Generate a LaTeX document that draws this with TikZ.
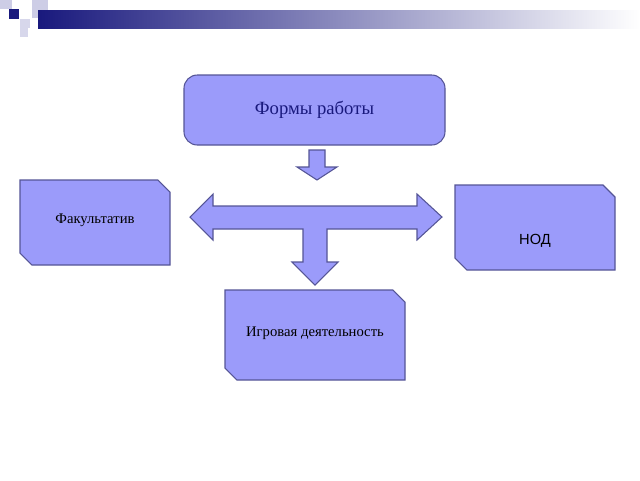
\documentclass[tikz,border=0pt]{standalone}
\usepackage{fontspec}
\setmainfont{Liberation Serif}
\setsansfont{Liberation Sans}
\definecolor{boxfill}{RGB}{155,155,250}
\definecolor{boxline}{RGB}{85,85,150}
\definecolor{navy}{RGB}{25,25,125}
\definecolor{pale}{RGB}{205,205,230}
\tikzset{
  panel/.style={fill=boxfill,draw=boxline,line width=0.8},
  arrowshape/.style={fill=boxfill,draw=boxline,line width=0.8,line join=miter}
}
\begin{document}
\begin{tikzpicture}[x=0.75pt,y=-0.75pt]
\useasboundingbox (0,0) rectangle (640,480);

% header
\fill[pale] (0,0) rectangle (12,9);
\fill[pale] (32,0) rectangle (48,18);
\fill[pale!80] (20,19) rectangle (30,28);
\fill[pale!80] (20,28) rectangle (28,37);
\fill[navy] (9,9) rectangle (19,19);
\shade[left color=navy,right color=white] (38,10) rectangle (640,28);

% top box
\node[panel,rounded corners=10,minimum width=195.75pt,minimum height=52.5pt,font=\fontsize{14}{16}\selectfont,text=navy]
  (forms) at (314.5,110) {Формы работы};

% small arrow
\draw[arrowshape] (309,150)--(325,150)--(325,167)--(337,167)--(317,180)--(297,167)--(309,167)--cycle;

% big arrow
\draw[arrowshape] (190,217)--(213,194)--(213,206)--(417,206)--(417,194)--(442,217)--(417,240)--(417,229)
  --(327,229)--(327,262)--(338,262)--(315,285)--(292,262)--(303,262)--(303,229)--(213,229)--(213,240)--cycle;

% side boxes
\foreach \x/\y/\w/\h/\nm in {20/180/150/85/fak, 455/185/160/85/nod, 225/290/180/90/game}{
  \draw[panel] (\x,\y)--(\x+\w-12,\y)--(\x+\w,\y+12)--(\x+\w,\y+\h)--(\x+12,\y+\h)--(\x,\y+\h-12)--cycle;
  \coordinate (\nm) at (\x+\w/2,\y+\h/2);
}
\node[font=\fontsize{11}{13}\selectfont] (fakt) at ([yshift=2]fak) {Факультатив};
\node[font=\sffamily\fontsize{11}{13}\selectfont] (nodt) at ([yshift=-10]nod) {НОД};
\node[font=\fontsize{11}{13}\selectfont] (gamet) at ([yshift=1]game) {Игровая деятельность};
\end{tikzpicture}
\end{document}
